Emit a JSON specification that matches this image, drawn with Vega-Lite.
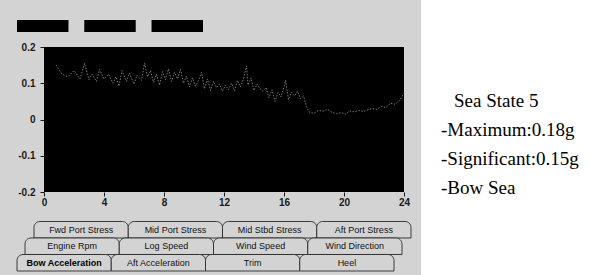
{
  "$schema": "https://vega.github.io/schema/vega-lite/v6.json",
  "background": "#d3d3d3",
  "padding": {"left": 16, "top": 0, "right": 0, "bottom": 0},
  "config": {
    "view": {"stroke": null},
    "font": "Liberation Sans",
    "axis": {"labelFont": "Liberation Sans", "labelFontWeight": "bold", "labelFontSize": 10, "labelColor": "#1a1a1a", "tickColor": "#1a1a1a", "tickSize": 4, "domain": false, "grid": false, "title": null}
  },
  "spacing": 0,
  "hconcat": [
    {
      "spacing": 10,
      "vconcat": [
        {
          "width": 186,
          "height": 32,
          "data": {"values": [{"box": "A", "band": "top"}, {"box": "B", "band": "top"}, {"box": "C", "band": "top"}]},
          "mark": {"type": "rect", "color": "#000", "xOffset": -27},
          "encoding": {
            "x": {"field": "box", "type": "nominal", "axis": null, "scale": {"type": "band", "paddingInner": 0.235, "paddingOuter": 0}},
            "y": {"field": "band", "type": "nominal", "axis": null, "scale": {"type": "band", "paddingInner": 0, "paddingOuter": 0.833, "align": 1}}
          }
        },
        {
          "width": 360,
          "height": 145,
          "view": {"fill": "#000", "stroke": null},
          "data": {"values": [
            {"t": 0.8, "v": 0.150}, {"t": 1.2, "v": 0.125}, {"t": 1.6, "v": 0.118}, {"t": 2.0, "v": 0.135}, {"t": 2.4, "v": 0.112},
            {"t": 2.7, "v": 0.155}, {"t": 3.0, "v": 0.110}, {"t": 3.2, "v": 0.125}, {"t": 3.5, "v": 0.105}, {"t": 3.7, "v": 0.138},
            {"t": 4.0, "v": 0.112}, {"t": 4.3, "v": 0.125}, {"t": 4.6, "v": 0.100}, {"t": 4.8, "v": 0.118}, {"t": 5.0, "v": 0.092},
            {"t": 5.2, "v": 0.135}, {"t": 5.5, "v": 0.105}, {"t": 5.7, "v": 0.128}, {"t": 6.0, "v": 0.098}, {"t": 6.2, "v": 0.122},
            {"t": 6.5, "v": 0.108}, {"t": 6.7, "v": 0.155}, {"t": 6.9, "v": 0.118}, {"t": 7.1, "v": 0.135}, {"t": 7.3, "v": 0.102},
            {"t": 7.5, "v": 0.125}, {"t": 7.7, "v": 0.095}, {"t": 7.9, "v": 0.132}, {"t": 8.1, "v": 0.110}, {"t": 8.3, "v": 0.140},
            {"t": 8.5, "v": 0.105}, {"t": 8.7, "v": 0.130}, {"t": 8.9, "v": 0.112}, {"t": 9.1, "v": 0.138}, {"t": 9.3, "v": 0.100},
            {"t": 9.5, "v": 0.120}, {"t": 9.7, "v": 0.090}, {"t": 9.9, "v": 0.115}, {"t": 10.1, "v": 0.092}, {"t": 10.3, "v": 0.108},
            {"t": 10.5, "v": 0.130}, {"t": 10.7, "v": 0.085}, {"t": 10.9, "v": 0.112}, {"t": 11.1, "v": 0.080}, {"t": 11.3, "v": 0.105},
            {"t": 11.5, "v": 0.088}, {"t": 11.7, "v": 0.098}, {"t": 11.9, "v": 0.078}, {"t": 12.1, "v": 0.095}, {"t": 12.3, "v": 0.082},
            {"t": 12.5, "v": 0.100}, {"t": 12.7, "v": 0.080}, {"t": 12.9, "v": 0.108}, {"t": 13.1, "v": 0.090}, {"t": 13.3, "v": 0.112},
            {"t": 13.5, "v": 0.148}, {"t": 13.6, "v": 0.095}, {"t": 13.8, "v": 0.115}, {"t": 14.0, "v": 0.080}, {"t": 14.2, "v": 0.098},
            {"t": 14.4, "v": 0.085}, {"t": 14.6, "v": 0.078}, {"t": 14.8, "v": 0.088}, {"t": 15.0, "v": 0.060}, {"t": 15.2, "v": 0.082},
            {"t": 15.4, "v": 0.050}, {"t": 15.6, "v": 0.075}, {"t": 15.8, "v": 0.062}, {"t": 16.0, "v": 0.090}, {"t": 16.1, "v": 0.108},
            {"t": 16.3, "v": 0.055}, {"t": 16.5, "v": 0.075}, {"t": 16.7, "v": 0.065}, {"t": 16.9, "v": 0.078}, {"t": 17.1, "v": 0.058},
            {"t": 17.3, "v": 0.065}, {"t": 17.5, "v": 0.035}, {"t": 17.7, "v": 0.020}, {"t": 18.0, "v": 0.017}, {"t": 18.3, "v": 0.025},
            {"t": 18.6, "v": 0.023}, {"t": 18.9, "v": 0.028}, {"t": 19.2, "v": 0.020}, {"t": 19.5, "v": 0.016}, {"t": 19.8, "v": 0.019},
            {"t": 20.1, "v": 0.015}, {"t": 20.4, "v": 0.024}, {"t": 20.7, "v": 0.021}, {"t": 21.0, "v": 0.025}, {"t": 21.3, "v": 0.022},
            {"t": 21.6, "v": 0.027}, {"t": 21.9, "v": 0.030}, {"t": 22.2, "v": 0.028}, {"t": 22.5, "v": 0.036}, {"t": 22.8, "v": 0.033},
            {"t": 23.1, "v": 0.045}, {"t": 23.4, "v": 0.042}, {"t": 23.7, "v": 0.052}, {"t": 24.0, "v": 0.072}
          ]},
          "mark": {"type": "line", "color": "#969696", "strokeWidth": 0.8, "strokeDash": [1.5, 1.5]},
          "encoding": {
            "x": {"field": "t", "type": "quantitative", "scale": {"domain": [0, 24], "nice": false},
                  "axis": {"values": [0, 4, 8, 12, 16, 20, 24], "labelFlush": false, "labelPadding": 1}},
            "y": {"field": "v", "type": "quantitative", "scale": {"domain": [-0.2, 0.2], "nice": false},
                  "axis": {"values": [-0.2, -0.1, 0, 0.1, 0.2], "labelPadding": 5,
                           "labelExpr": "datum.value == 0 ? '0' : (datum.value < 0 ? '-' : '') + format(abs(datum.value), '.1f')"}}
          }
        },
        {
          "width": 377,
          "height": 54,
          "data": {"values": [
            {"tier": 1, "slot": 1, "label": "Fwd Port Stress"}, {"tier": 1, "slot": 2, "label": "Mid Port Stress"},
            {"tier": 1, "slot": 3, "label": "Mid Stbd Stress"}, {"tier": 1, "slot": 4, "label": "Aft Port Stress"},
            {"tier": 2, "slot": 1, "label": "Engine Rpm"}, {"tier": 2, "slot": 2, "label": "Log Speed"},
            {"tier": 2, "slot": 3, "label": "Wind Speed"}, {"tier": 2, "slot": 4, "label": "Wind Direction"},
            {"tier": 3, "slot": 1, "label": "Bow Acceleration"}, {"tier": 3, "slot": 2, "label": "Aft Acceleration"},
            {"tier": 3, "slot": 3, "label": "Trim"}, {"tier": 3, "slot": 4, "label": "Heel"}
          ]},
          "encoding": {
            "x": {"field": "slot", "type": "ordinal", "axis": null, "scale": {"type": "band", "paddingInner": 0, "paddingOuter": 0, "align": 0}},
            "y": {"field": "tier", "type": "ordinal", "axis": null, "scale": {"type": "band", "paddingInner": 0, "paddingOuter": 0.136, "align": 1}}
          },
          "layer": [
            {"transform": [{"filter": "datum.tier == 1"}],
             "mark": {"type": "rect", "fill": "#d3d3d3", "stroke": "#2a2a2a", "strokeWidth": 0.9, "cornerRadiusTopLeft": 6, "cornerRadiusTopRight": 6, "xOffset": -10}},
            {"transform": [{"filter": "datum.tier == 1"}],
             "mark": {"type": "text", "xOffset": -10, "fontSize": 9, "color": "#111"},
             "encoding": {"text": {"field": "label"}}},
            {"transform": [{"filter": "datum.tier == 2"}],
             "mark": {"type": "rect", "fill": "#d3d3d3", "stroke": "#2a2a2a", "strokeWidth": 0.9, "cornerRadiusTopLeft": 6, "cornerRadiusTopRight": 6, "xOffset": -19}},
            {"transform": [{"filter": "datum.tier == 2"}],
             "mark": {"type": "text", "xOffset": -19, "fontSize": 9, "color": "#111"},
             "encoding": {"text": {"field": "label"}}},
            {"transform": [{"filter": "datum.tier == 3"}],
             "mark": {"type": "rect", "fill": "#d3d3d3", "stroke": "#2a2a2a", "strokeWidth": 0.9, "cornerRadiusTopLeft": 6, "cornerRadiusTopRight": 6, "xOffset": -27}},
            {"transform": [{"filter": "datum.tier == 3 && datum.slot > 1"}],
             "mark": {"type": "text", "xOffset": -27, "fontSize": 9, "color": "#111"},
             "encoding": {"text": {"field": "label"}}},
            {"transform": [{"filter": "datum.tier == 3 && datum.slot == 1"}],
             "mark": {"type": "text", "xOffset": -27, "fontSize": 9, "fontWeight": "bold", "color": "#000"},
             "encoding": {"text": {"field": "label"}}}
          ]
        }
      ]
    },
    {
      "width": 170,
      "height": 275,
      "view": {"fill": "#ffffff", "stroke": null},
      "data": {"values": [
        {"line": 1, "label": "Sea State 5"},
        {"line": 2, "label": "-Maximum:0.18g"},
        {"line": 3, "label": "-Significant:0.15g"},
        {"line": 4, "label": "-Bow Sea"}
      ]},
      "encoding": {
        "y": {"field": "line", "type": "ordinal", "axis": null,
              "scale": {"type": "point", "domain": [-2, -1, 0, 1, 2, 3, 4, 5, 6, 7], "padding": 0.25, "align": 1}},
        "text": {"field": "label"}
      },
      "layer": [
        {"transform": [{"filter": "datum.line == 1"}],
         "mark": {"type": "text", "align": "left", "dx": -52, "font": "Liberation Serif", "fontSize": 19, "color": "#000"}},
        {"transform": [{"filter": "datum.line > 1"}],
         "mark": {"type": "text", "align": "left", "dx": -65, "font": "Liberation Serif", "fontSize": 19, "color": "#000"}}
      ]
    }
  ]
}
